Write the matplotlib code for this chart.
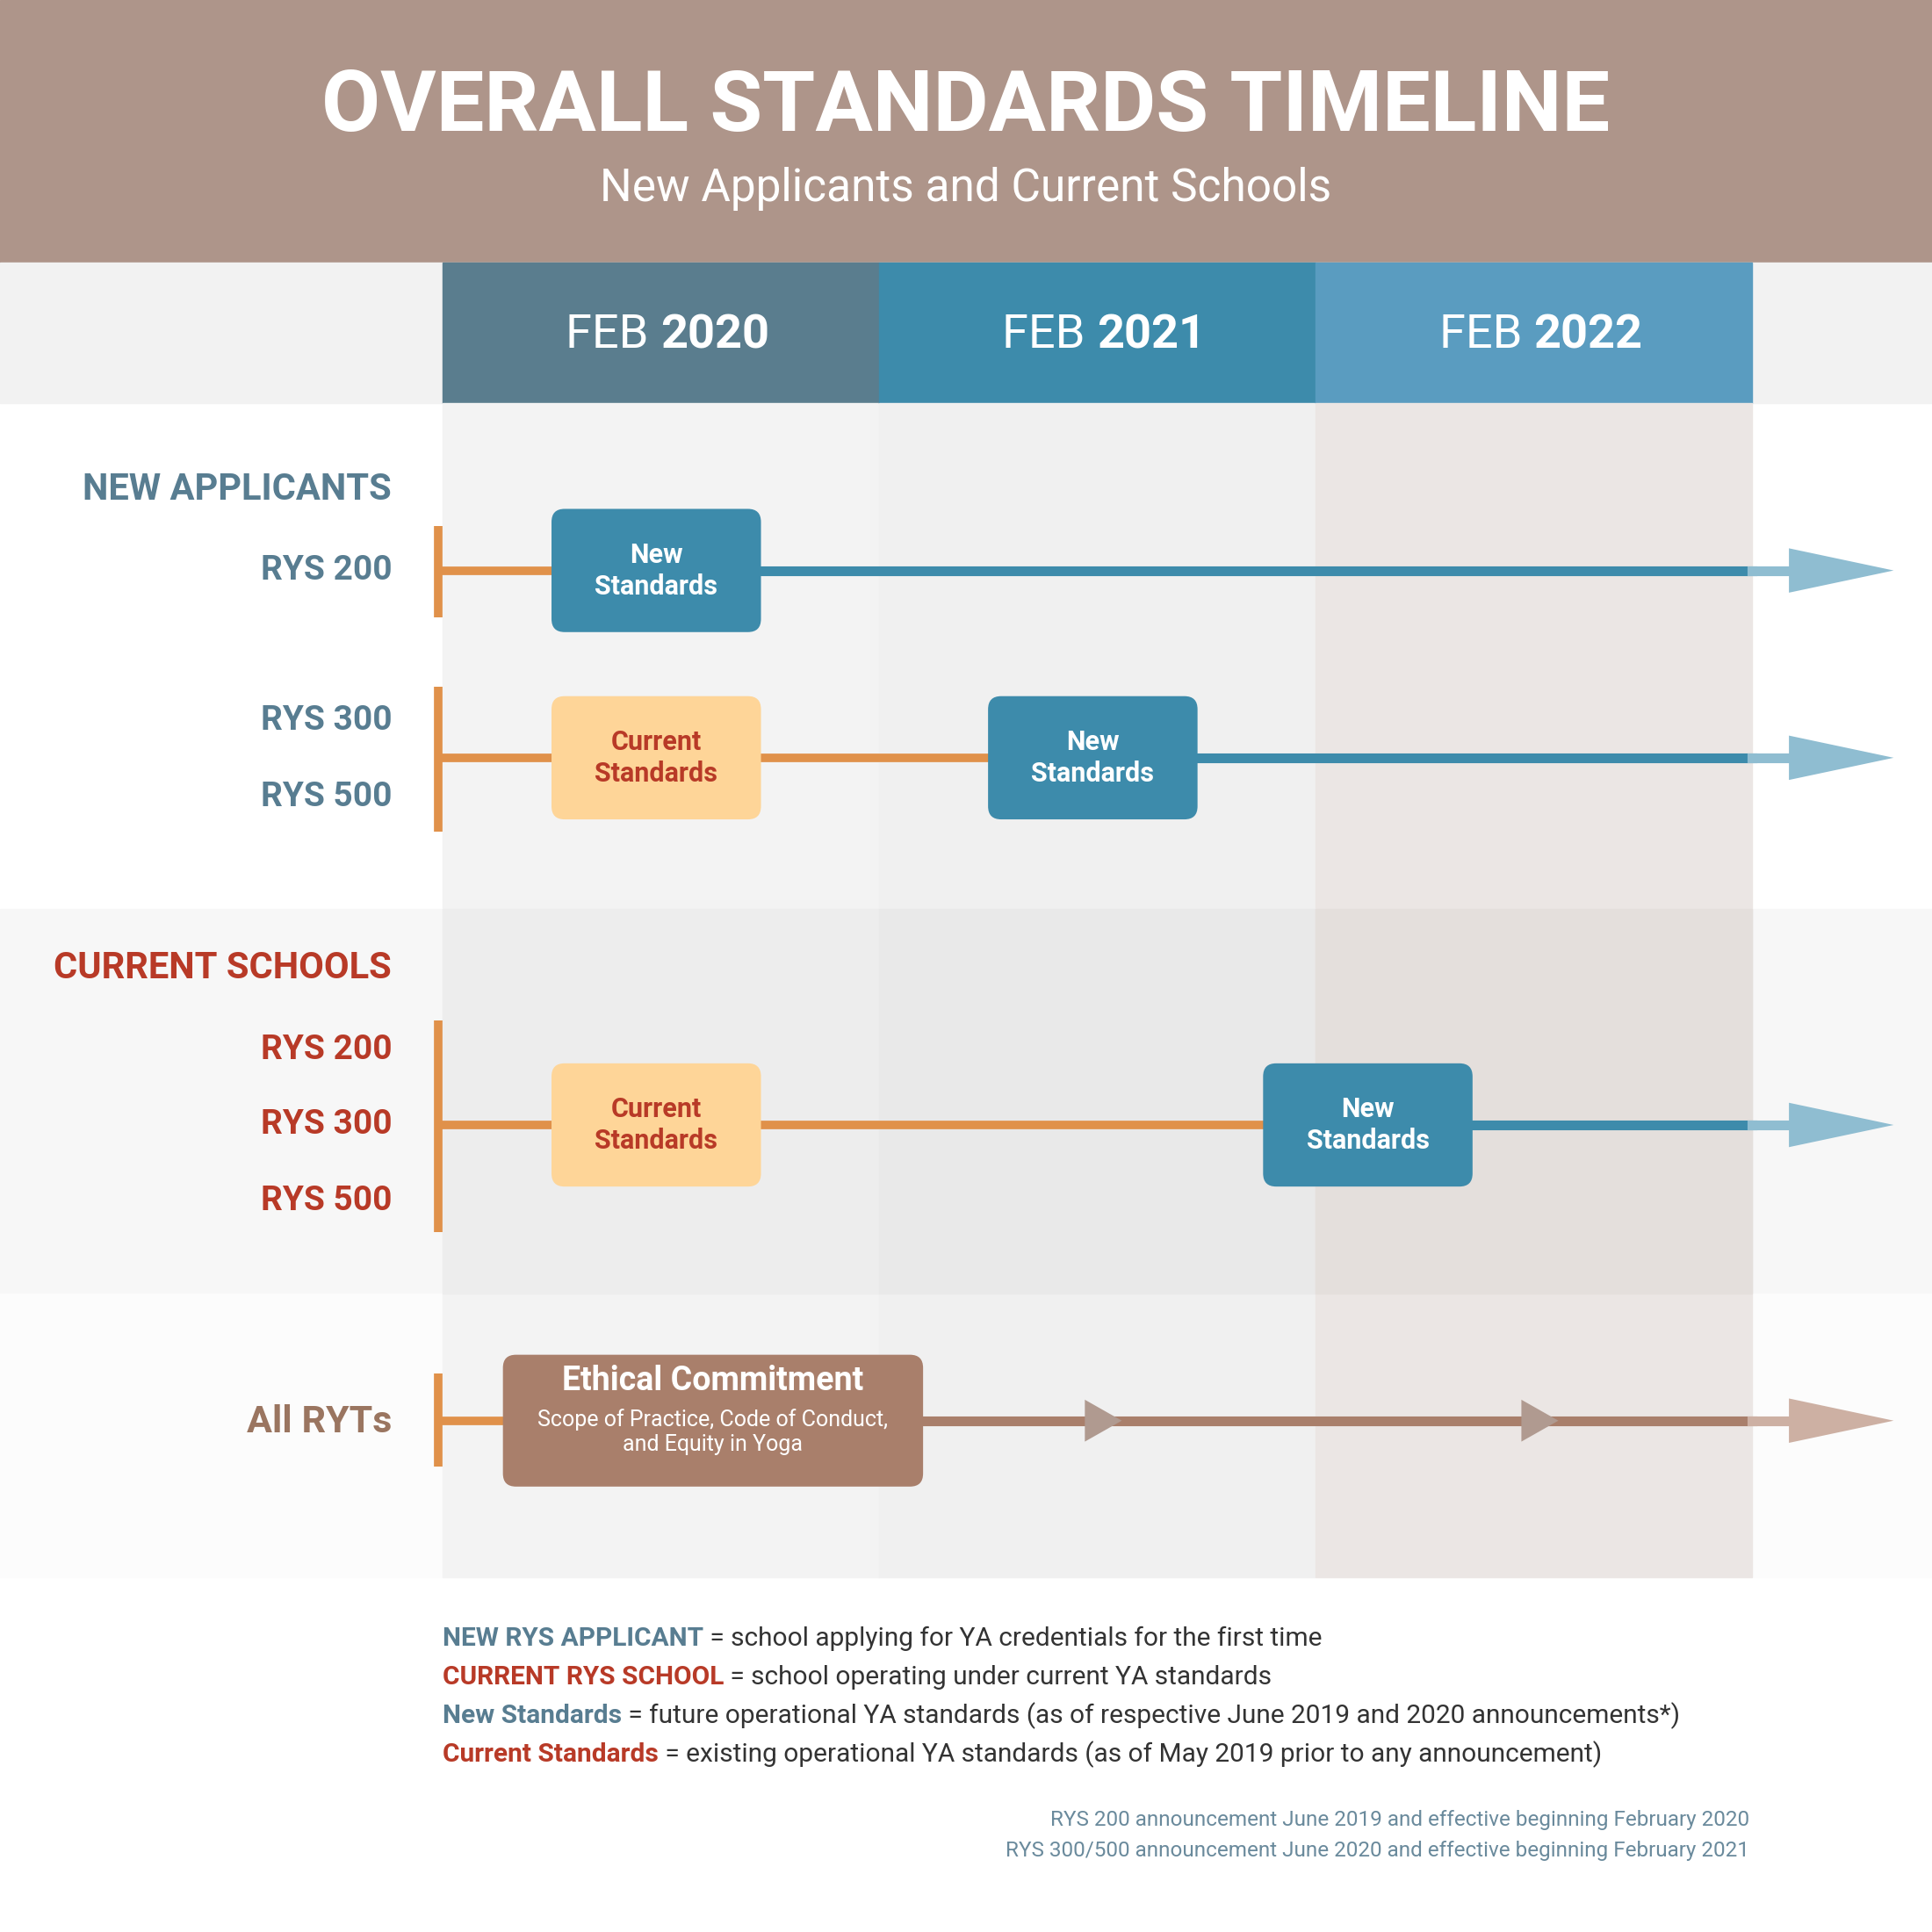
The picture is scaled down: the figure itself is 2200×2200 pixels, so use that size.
import matplotlib
matplotlib.use("Agg")
import matplotlib.pyplot as plt
from matplotlib.patches import FancyBboxPatch, Rectangle, Polygon

# ---- data ----
years = [2020, 2021, 2022]
col_colors = ["#5a7d8e", "#3d8bab", "#5a9cc0"]
col_bg = ["#f3f3f3", "#f0f0f0", "#ebe6e4"]
col_bg_band = ["#ededed", "#e9e9e9", "#e4dfdc"]

# rows: (y position in px, stage starts (year fraction), stage kinds)
na_labels = [("RYS 200", 463), ("RYS 300", 585), ("RYS 500", 647)]
cs_labels = [("RYS 200", 852), ("RYS 300", 913), ("RYS 500", 975)]
rows = [
    {"y": 463, "span": (427, 501), "boxes": [(2020.49, "new")]},
    {"y": 615, "span": (557, 675), "boxes": [(2020.49, "cur"), (2021.49, "new")]},
    {"y": 913, "span": (828, 1000), "boxes": [(2020.49, "cur"), (2022.12, "new")]},
]
ryt_y = 1153
ryt_box = 2020.62
ryt_marks = [2021.5, 2022.5]

legend = [
    ("NEW RYS APPLICANT", "#587d91", " = school applying for YA credentials for the first time"),
    ("CURRENT RYS SCHOOL", "#b83a27", " = school operating under current YA standards"),
    ("New Standards", "#587d91", " = future operational YA standards (as of respective June 2019 and 2020 announcements*)"),
    ("Current Standards", "#b83a27", " = existing operational YA standards (as of May 2019 prior to any announcement)"),
]
footnotes = ["RYS 200 announcement June 2019 and effective beginning February 2020",
             "RYS 300/500 announcement June 2020 and effective beginning February 2021"]

# ---- scale: x in years, y in reference pixels ----
PPY = 354.3           # pixels per year
X0 = 2020 - 359 / PPY
X1 = X0 + 1568 / PPY
def px(p):
    return X0 + p / PPY

plt.rcParams["font.family"] = "Roboto"
fig = plt.figure(figsize=(22, 22), dpi=100)
ax = fig.add_axes([0, 0, 1, 1])
ax.set_xlim(X0, X1)
ax.set_ylim(1568, 0)
ax.axis("off")

BLUE = "#3d8bab"
ORANGE = "#e0914a"
LBLUE = "#8fbdd1"
BROWN = "#a97f6b"

# backgrounds
ax.add_patch(Rectangle((X0, 0), X1 - X0, 213, color="#ae958a", zorder=0))
ax.add_patch(Rectangle((X0, 213), X1 - X0, 114, color="#f2f2f2", zorder=0))
ax.add_patch(Rectangle((X0, 738), X1 - X0, 312, color="#f7f7f7", zorder=0))
ax.add_patch(Rectangle((X0, 1050), X1 - X0, 230, color="#fcfcfc", zorder=0))
for i, yr in enumerate(years):
    ax.add_patch(Rectangle((yr, 213), 1, 114, color=col_colors[i], zorder=1))
    ax.add_patch(Rectangle((yr, 327), 1, 953, color=col_bg[i], zorder=1))
    ax.add_patch(Rectangle((yr, 738), 1, 312, color=col_bg_band[i], zorder=1))
    t = ax.text(yr + 0.5, 272, "FEB ", fontsize=39, color="white", ha="right", va="center", zorder=3)
    ax.annotate(str(yr), xy=(1, 0), xycoords=t, va="bottom", fontsize=39,
                color="white", fontweight="bold", zorder=3)

ax.text(px(784), 88, "OVERALL STANDARDS TIMELINE", fontsize=70, fontweight="bold",
        color="white", ha="center", va="center", fontstretch="condensed")
ax.text(px(784), 153, "New Applicants and Current Schools", fontsize=37,
        color="white", ha="center", va="center")

# section labels
LX = px(318)
ax.text(LX, 397, "NEW APPLICANTS", fontsize=30, fontweight="bold", color="#587d91", ha="right", va="center")
for lab, y in na_labels:
    ax.text(LX, y, lab, fontsize=28, fontweight="bold", color="#587d91", ha="right", va="center")
ax.text(LX, 786, "CURRENT SCHOOLS", fontsize=30, fontweight="bold", color="#b83a27", ha="right", va="center")
for lab, y in cs_labels:
    ax.text(LX, y, lab, fontsize=28, fontweight="bold", color="#b83a27", ha="right", va="center")
ax.text(LX, 1154, "All RYTs", fontsize=31, fontweight="bold", color="#9a7560", ha="right", va="center")

BW, BH = 170 / PPY, 100
ARW = 85 / PPY

def box(xc, yc, w, h, color, z=5):
    ax.add_patch(FancyBboxPatch((xc - w / 2, yc - h / 2), w, h,
                                boxstyle="round,pad=0,rounding_size=0.03",
                                mutation_aspect=PPY, color=color, lw=0, zorder=z))

def arrowhead(x, y, color, w=ARW, h=36):
    ax.add_patch(Polygon([(x, y - h / 2), (x + w, y), (x, y + h / 2)], closed=True,
                         color=color, lw=0, zorder=4))

for r in rows:
    y = r["y"]
    ax.plot([px(356), px(356)], r["span"], color=ORANGE, lw=7, solid_capstyle="butt", zorder=3)
    xs = [b[0] for b in r["boxes"]]
    new_x = [b[0] for b in r["boxes"] if b[1] == "new"][0]
    ax.plot([years[0], new_x], [y, y], color=ORANGE, lw=7, zorder=3)
    ax.plot([new_x, years[-1] + 1], [y, y], color=BLUE, lw=8, zorder=3)
    ax.plot([years[-1] + 1, years[-1] + 1 + 0.1], [y, y], color=LBLUE, lw=8, zorder=3)
    arrowhead(years[-1] + 1 + 30 / PPY, y, LBLUE)
    for xb, kind in r["boxes"]:
        if kind == "new":
            box(xb, y, BW, BH, BLUE)
            ax.text(xb, y, "New\nStandards", fontsize=22, fontweight="bold", color="white",
                    ha="center", va="center", linespacing=1.25, zorder=6)
        else:
            box(xb, y, BW, BH, "#fed598")
            ax.text(xb, y, "Current\nStandards", fontsize=22, fontweight="bold", color="#b83a27",
                    ha="center", va="center", linespacing=1.25, zorder=6)

# All RYTs row
ax.plot([px(356), px(356)], [1115, 1190], color=ORANGE, lw=7, solid_capstyle="butt", zorder=3)
ax.plot([years[0], ryt_box], [ryt_y, ryt_y], color=ORANGE, lw=7, zorder=3)
ax.plot([ryt_box, years[-1] + 1], [ryt_y, ryt_y], color=BROWN, lw=8, zorder=3)
ax.plot([years[-1] + 1, years[-1] + 1.1], [ryt_y, ryt_y], color="#cdb0a3", lw=8, zorder=3)
arrowhead(years[-1] + 1 + 30 / PPY, ryt_y, "#cdb0a3")
for m in ryt_marks:
    arrowhead(m - 10 / PPY, ryt_y, "#b09a90", w=30 / PPY, h=34)
box(ryt_box, ryt_y, 341 / PPY, 107, "#a97f6b")
ax.text(ryt_box, 1121, "Ethical Commitment", fontsize=27, fontweight="bold", color="white",
        ha="center", va="center", fontstretch="condensed", zorder=6)
ax.text(ryt_box, 1162, "Scope of Practice, Code of Conduct,\nand Equity in Yoga", fontsize=18,
        color="white", ha="center", va="center", linespacing=1.2, zorder=6)

# legend
for i, (key, c, rest) in enumerate(legend):
    t = ax.text(px(359), 1330 + i * 31.3, key, fontsize=21.5, fontweight="bold", color=c, va="center")
    ax.annotate(rest, xy=(1, 0.5), xycoords=t, va="center", fontsize=21.5, color="#333333")
for i, s in enumerate(footnotes):
    ax.text(px(1420), 1477 + i * 25, s, fontsize=17.5, color="#6a8a9c", ha="right", va="center")

fig.savefig("out.png", dpi=100, facecolor="white")
